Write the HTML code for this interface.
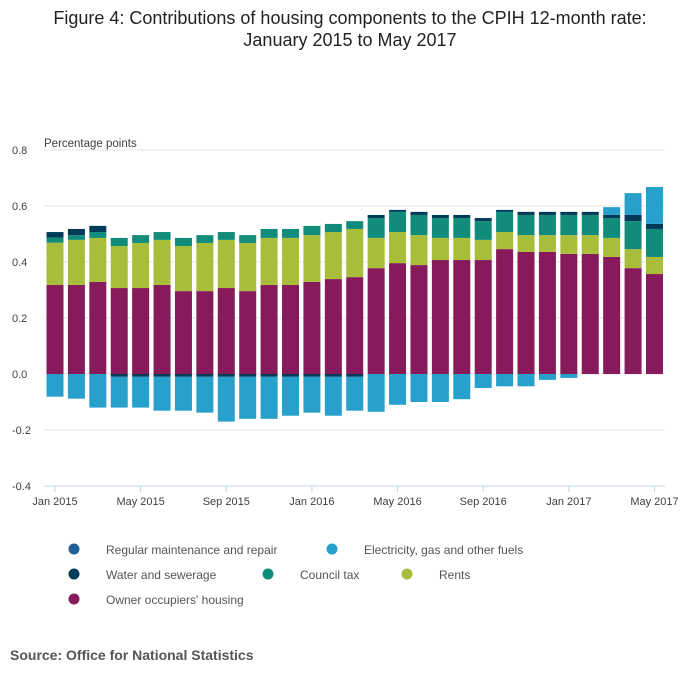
<!DOCTYPE html>
<html><head><meta charset="utf-8"><style>
body{margin:0;background:#fff;font-family:"Liberation Sans",sans-serif;}
svg text{font-family:"Liberation Sans",sans-serif;}
</style></head><body>
<svg width="700" height="682" viewBox="0 0 700 682">
<text x="350" y="24" text-anchor="middle" font-size="18" fill="#222">Figure 4: Contributions of housing components to the CPIH 12-month rate:</text>
<text x="350" y="46" text-anchor="middle" font-size="18" fill="#222">January 2015 to May 2017</text>
<text x="44" y="147" font-size="11.5" fill="#414042">Percentage points</text>
<g id="grid"></g>
<g id="bars"></g>
<g id="xaxis"></g>
<g id="legend" font-size="12" fill="#555">
<circle cx="74" cy="549" r="5.5" fill="#206095"/>
<text x="106" y="554">Regular maintenance and repair</text>
<circle cx="332" cy="549" r="5.5" fill="#27a0cc"/>
<text x="364" y="554">Electricity, gas and other fuels</text>
<circle cx="74" cy="574" r="5.5" fill="#003c57"/>
<text x="106" y="579">Water and sewerage</text>
<circle cx="268" cy="574" r="5.5" fill="#118c7b"/>
<text x="300" y="579">Council tax</text>
<circle cx="407" cy="574" r="5.5" fill="#a8bd3a"/>
<text x="439" y="579">Rents</text>
<circle cx="74" cy="599" r="5.5" fill="#871a5b"/>
<text x="106" y="604">Owner occupiers' housing</text>
</g>
<text x="10" y="660" font-size="14" font-weight="bold" fill="#555">Source: Office for National Statistics</text>
</svg>
<script>
const months = ["Jan 2015","Feb 2015","Mar 2015","Apr 2015","May 2015","Jun 2015","Jul 2015","Aug 2015","Sep 2015","Oct 2015","Nov 2015","Dec 2015","Jan 2016","Feb 2016","Mar 2016","Apr 2016","May 2016","Jun 2016","Jul 2016","Aug 2016","Sep 2016","Oct 2016","Nov 2016","Dec 2016","Jan 2017","Feb 2017","Mar 2017","Apr 2017","May 2017"];
const owner = [0.318,0.318,0.329,0.307,0.307,0.318,0.296,0.296,0.307,0.296,0.318,0.318,0.329,0.339,0.346,0.378,0.396,0.389,0.407,0.407,0.407,0.446,0.436,0.436,0.429,0.429,0.418,0.378,0.357];
const rents = [0.151,0.161,0.157,0.15,0.161,0.161,0.161,0.172,0.172,0.172,0.168,0.168,0.167,0.168,0.172,0.108,0.111,0.107,0.079,0.079,0.072,0.061,0.06,0.06,0.067,0.067,0.068,0.068,0.061];
const council = [0.018,0.017,0.021,0.029,0.028,0.028,0.029,0.028,0.028,0.028,0.032,0.032,0.033,0.029,0.028,0.071,0.072,0.072,0.071,0.071,0.067,0.072,0.072,0.072,0.072,0.072,0.071,0.1,0.1];
const water = [0.02,0.022,0.022,-0.01,-0.01,-0.01,-0.01,-0.01,-0.01,-0.01,-0.01,-0.01,-0.01,-0.01,-0.01,0.011,0.007,0.011,0.011,0.011,0.011,0.007,0.011,0.011,0.011,0.011,0.011,0.022,0.018];
const electricity = [-0.081,-0.088,-0.12,-0.11,-0.11,-0.121,-0.121,-0.128,-0.16,-0.15,-0.15,-0.139,-0.128,-0.139,-0.121,-0.135,-0.11,-0.10,-0.10,-0.09,-0.05,-0.044,-0.044,-0.021,-0.014,0,0.028,0.078,0.132];
const maintenance = new Array(29).fill(0);
const yTicks = [0.8,0.6,0.4,0.2,0.0,-0.2,-0.4];
const yTickLabels = ["0.8","0.6","0.4","0.2","0.0","-0.2","-0.4"];
const xTickIdx = [0,4,8,12,16,20,24,28];
const xTickLabels = ["Jan 2015","May 2015","Sep 2015","Jan 2016","May 2016","Sep 2016","Jan 2017","May 2017"];

const NS="http://www.w3.org/2000/svg";
const y = v => 374 - v*280;
const x = i => 55 + i*21.41;
const bw = 17;
function mk(tag, attrs, parent){const e=document.createElementNS(NS,tag);for(const k in attrs)e.setAttribute(k,attrs[k]);parent.appendChild(e);return e;}
const grid=document.getElementById('grid'), bars=document.getElementById('bars'), xa=document.getElementById('xaxis');
yTicks.forEach((t,i)=>{
  const l=mk('line',{x1:44,x2:665,y1:y(t),y2:y(t),stroke:i===yTicks.length-1?'#c8d4e4':'#e4e4e4','stroke-width':1},grid);
  
  
  const tx=mk('text',{x:12,y:y(t)+4,'font-size':11,fill:'#414042'},grid);
  tx.textContent=yTickLabels[i];
  
  
});
const series=[["owner",owner,"#871a5b"],["rents",rents,"#a8bd3a"],["council",council,"#118c7b"],["water",water,"#003c57"],["electricity",electricity,"#27a0cc"],["maintenance",maintenance,"#206095"]];
months.forEach((m,i)=>{
  let pos=0,neg=0;
  series.forEach(([nm,arr,col])=>{
    const v=arr[i]; if(!v) return;
    let y0,y1;
    if(v>0){y0=pos;pos+=v;y1=pos;}else{y0=neg;neg+=v;y1=neg;}
    const r=mk('rect',{x:x(i)-bw/2,y:Math.min(y(y0),y(y1)),width:bw,height:Math.abs(y(y0)-y(y1)),fill:col},bars);
    
    
  });
});
xTickIdx.forEach((idx,k)=>{
  const l=mk('line',{x1:x(idx),x2:x(idx),y1:486,y2:492,stroke:'#c8d4e4'},xa);
  
  
  const t=mk('text',{x:x(idx),y:505,'text-anchor':'middle','font-size':11,fill:'#414042'},xa);
  t.textContent=xTickLabels[k];
  
  
});
</script>
</body></html>
